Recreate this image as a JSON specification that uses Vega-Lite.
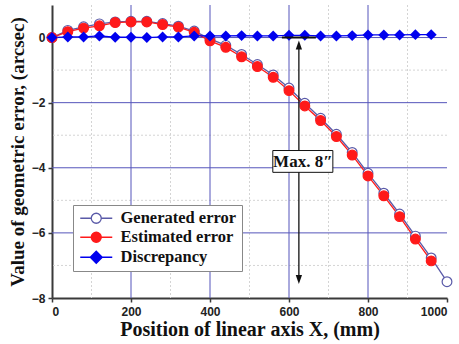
{
  "$schema": "https://vega.github.io/schema/vega-lite/v6.json",
  "width": 395,
  "height": 293,
  "autosize": {"type": "none"},
  "padding": {"left": 52, "top": 5, "right": 12, "bottom": 46},
  "background": "white",
  "config": {
    "view": {"stroke": null},
    "axis": {
      "domainColor": "#3a3a3a",
      "domainWidth": 2,
      "tickColor": "#3a3a3a",
      "tickWidth": 1.5,
      "tickSize": 4,
      "grid": false,
      "labelFont": "Liberation Sans",
      "labelFontWeight": "bold",
      "labelFontSize": 12,
      "labelColor": "#222",
      "titleFont": "Liberation Serif",
      "titleFontWeight": "bold",
      "titleColor": "#111"
    }
  },
  "datasets": {
    "series": [
      {"x": 0, "s": "Generated error", "v": 0.0},
      {"x": 40, "s": "Generated error", "v": 0.22},
      {"x": 80, "s": "Generated error", "v": 0.33},
      {"x": 120, "s": "Generated error", "v": 0.42},
      {"x": 160, "s": "Generated error", "v": 0.48},
      {"x": 200, "s": "Generated error", "v": 0.5},
      {"x": 240, "s": "Generated error", "v": 0.5},
      {"x": 280, "s": "Generated error", "v": 0.43},
      {"x": 320, "s": "Generated error", "v": 0.35},
      {"x": 360, "s": "Generated error", "v": 0.2},
      {"x": 400, "s": "Generated error", "v": -0.04},
      {"x": 440, "s": "Generated error", "v": -0.24},
      {"x": 480, "s": "Generated error", "v": -0.52},
      {"x": 520, "s": "Generated error", "v": -0.83},
      {"x": 560, "s": "Generated error", "v": -1.15},
      {"x": 600, "s": "Generated error", "v": -1.55},
      {"x": 640, "s": "Generated error", "v": -2.02},
      {"x": 680, "s": "Generated error", "v": -2.48},
      {"x": 720, "s": "Generated error", "v": -2.97},
      {"x": 760, "s": "Generated error", "v": -3.53},
      {"x": 800, "s": "Generated error", "v": -4.17},
      {"x": 840, "s": "Generated error", "v": -4.78},
      {"x": 880, "s": "Generated error", "v": -5.42},
      {"x": 920, "s": "Generated error", "v": -6.1},
      {"x": 960, "s": "Generated error", "v": -6.77},
      {"x": 1000, "s": "Generated error", "v": -7.5},
      {"x": 0, "s": "Estimated error", "v": 0.0},
      {"x": 40, "s": "Estimated error", "v": 0.18},
      {"x": 80, "s": "Estimated error", "v": 0.29},
      {"x": 120, "s": "Estimated error", "v": 0.36},
      {"x": 160, "s": "Estimated error", "v": 0.46},
      {"x": 200, "s": "Estimated error", "v": 0.48},
      {"x": 240, "s": "Estimated error", "v": 0.48},
      {"x": 280, "s": "Estimated error", "v": 0.4},
      {"x": 320, "s": "Estimated error", "v": 0.32},
      {"x": 360, "s": "Estimated error", "v": 0.16},
      {"x": 400, "s": "Estimated error", "v": -0.1},
      {"x": 440, "s": "Estimated error", "v": -0.3},
      {"x": 480, "s": "Estimated error", "v": -0.59},
      {"x": 520, "s": "Estimated error", "v": -0.89},
      {"x": 560, "s": "Estimated error", "v": -1.22},
      {"x": 600, "s": "Estimated error", "v": -1.63},
      {"x": 640, "s": "Estimated error", "v": -2.1},
      {"x": 680, "s": "Estimated error", "v": -2.55},
      {"x": 720, "s": "Estimated error", "v": -3.04},
      {"x": 760, "s": "Estimated error", "v": -3.61},
      {"x": 800, "s": "Estimated error", "v": -4.25},
      {"x": 840, "s": "Estimated error", "v": -4.86},
      {"x": 880, "s": "Estimated error", "v": -5.5},
      {"x": 920, "s": "Estimated error", "v": -6.19},
      {"x": 960, "s": "Estimated error", "v": -6.86},
      {"x": 0, "s": "Discrepancy", "v": 0.0},
      {"x": 40, "s": "Discrepancy", "v": 0.02},
      {"x": 80, "s": "Discrepancy", "v": 0.02},
      {"x": 120, "s": "Discrepancy", "v": 0.05},
      {"x": 160, "s": "Discrepancy", "v": 0.01},
      {"x": 200, "s": "Discrepancy", "v": 0.01},
      {"x": 240, "s": "Discrepancy", "v": 0.0},
      {"x": 280, "s": "Discrepancy", "v": 0.02},
      {"x": 320, "s": "Discrepancy", "v": 0.02},
      {"x": 360, "s": "Discrepancy", "v": 0.05},
      {"x": 400, "s": "Discrepancy", "v": 0.05},
      {"x": 440, "s": "Discrepancy", "v": 0.05},
      {"x": 480, "s": "Discrepancy", "v": 0.06},
      {"x": 520, "s": "Discrepancy", "v": 0.05},
      {"x": 560, "s": "Discrepancy", "v": 0.05},
      {"x": 600, "s": "Discrepancy", "v": 0.07},
      {"x": 640, "s": "Discrepancy", "v": 0.07},
      {"x": 680, "s": "Discrepancy", "v": 0.05},
      {"x": 720, "s": "Discrepancy", "v": 0.05},
      {"x": 760, "s": "Discrepancy", "v": 0.06},
      {"x": 800, "s": "Discrepancy", "v": 0.08},
      {"x": 840, "s": "Discrepancy", "v": 0.08},
      {"x": 880, "s": "Discrepancy", "v": 0.08},
      {"x": 920, "s": "Discrepancy", "v": 0.09},
      {"x": 960, "s": "Discrepancy", "v": 0.09}
    ]
  },
  "layer": [
    {
      "data": {"values": [{"g": 100}, {"g": 300}, {"g": 500}, {"g": 700}, {"g": 900}]},
      "mark": {"type": "rule", "color": "#d4d4d4", "strokeDash": [2, 2], "strokeWidth": 1},
      "encoding": {"x": {"field": "g", "type": "quantitative"}}
    },
    {
      "data": {"values": [{"g": -7}, {"g": -5}, {"g": -3}, {"g": -1}]},
      "mark": {"type": "rule", "color": "#d4d4d4", "strokeDash": [2, 2], "strokeWidth": 1},
      "encoding": {"y": {"field": "g", "type": "quantitative"}}
    },
    {
      "data": {"values": [{"g": 200}, {"g": 400}, {"g": 600}, {"g": 800}]},
      "mark": {"type": "rule", "color": "#5555bb", "strokeWidth": 1},
      "encoding": {"x": {"field": "g", "type": "quantitative"}}
    },
    {
      "data": {"values": [{"g": -6}, {"g": -4}, {"g": -2}, {"g": 0}]},
      "mark": {"type": "rule", "color": "#5555bb", "strokeWidth": 1},
      "encoding": {"y": {"field": "g", "type": "quantitative"}}
    },
    {
      "data": {"name": "series"},
      "mark": {"type": "line", "strokeWidth": 1.3},
      "encoding": {
        "x": {
          "field": "x", "type": "quantitative",
          "scale": {"domain": [0, 1000], "nice": false},
          "axis": {
            "values": [0, 200, 400, 600, 800, 1000],
            "format": "d",
            "labelPadding": 4,
            "title": "Position of linear axis X, (mm)",
            "titleFontSize": 20,
            "titlePadding": 2
          }
        },
        "y": {
          "field": "v", "type": "quantitative",
          "scale": {"domain": [-8, 1], "nice": false},
          "axis": {
            "values": [-8, -6, -4, -2, 0],
            "labelPadding": 3,
            "title": "Value of geometric error, (arcsec)",
            "titleFontSize": 19,
            "titlePadding": 4
          }
        },
        "stroke": {
          "field": "s", "type": "nominal",
          "scale": {"domain": ["Generated error", "Estimated error", "Discrepancy"], "range": ["#5a5aa8", "#ff1a1a", "#0000ee"]},
          "sort": null,
          "legend": {
            "title": null,
            "orient": "none",
            "legendX": 21,
            "legendY": 200,
            "direction": "vertical",
            "fillColor": "white",
            "strokeColor": "#888",
            "padding": 5,
            "labelFont": "Liberation Serif",
            "labelFontWeight": "bold",
            "labelFontSize": 16.5,
            "labelColor": "#111",
            "labelOffset": 16,
            "symbolOffset": 10,
            "symbolSize": 100,
            "symbolStrokeWidth": 1.3,
            "rowPadding": 2,
            "symbolType": "M-3.2,0L-1,0M1,0L3.2,0M-1,0A1,1,0,1,1,1,0A1,1,0,1,1,-1,0Z",
            "encode": {
              "symbols": {
                "update": {
                  "shape": {"signal": "datum.value === 'Discrepancy' ? 'M-3.2,0L-1.2,0M1.2,0L3.2,0M0,-1.2L1.2,0L0,1.2L-1.2,0Z' : 'M-3.2,0L-1,0M1,0L3.2,0M-1,0A1,1,0,1,1,1,0A1,1,0,1,1,-1,0Z'"},
                  "fill": {"signal": "datum.value === 'Generated error' ? 'white' : datum.value === 'Estimated error' ? '#ff1a1a' : '#0000ee'"},
                  "stroke": {"signal": "datum.value === 'Generated error' ? '#5a5aa8' : datum.value === 'Estimated error' ? '#ff1a1a' : '#0000ee'"},
                  "strokeWidth": {"value": 1.3},
                  "strokeOpacity": {"value": 1},
                  "fillOpacity": {"value": 1},
                  "opacity": {"value": 1}
                }
              }
            }
          }
        }
      }
    },
    {
      "data": {"name": "series"},
      "transform": [{"filter": "datum.s !== 'Discrepancy'"}],
      "mark": {"type": "point", "shape": "circle", "filled": false, "opacity": 1, "strokeWidth": 1.2, "size": 95},
      "encoding": {
        "x": {"field": "x", "type": "quantitative"},
        "y": {"field": "v", "type": "quantitative"},
        "fill": {
          "field": "s", "type": "nominal",
          "scale": {"domain": ["Generated error", "Estimated error", "Discrepancy"], "range": ["white", "#ff1a1a", "#0000ee"]},
          "legend": null
        },
        "stroke": {"field": "s", "type": "nominal", "legend": null},
        "fillOpacity": {"value": 1}
      }
    },
    {
      "data": {"name": "series"},
      "transform": [{"filter": "datum.s === 'Discrepancy'"}],
      "mark": {"type": "point", "shape": "diamond", "filled": true, "opacity": 1, "color": "#0000ee", "size": 120},
      "encoding": {
        "x": {"field": "x", "type": "quantitative"},
        "y": {"field": "v", "type": "quantitative"}
      }
    },
    {
      "data": {"values": [{"x": 625, "y": -0.25, "y2": -7.4}]},
      "mark": {"type": "rule", "color": "#111", "strokeWidth": 1.3},
      "encoding": {
        "x": {"field": "x", "type": "quantitative"},
        "y": {"field": "y", "type": "quantitative"},
        "y2": {"field": "y2"}
      }
    },
    {
      "data": {"values": [{"x": 582, "x2": 668, "y": 0}]},
      "mark": {"type": "rule", "color": "#111", "strokeWidth": 2},
      "encoding": {
        "x": {"field": "x", "type": "quantitative"},
        "x2": {"field": "x2"},
        "y": {"field": "y", "type": "quantitative"}
      }
    },
    {
      "data": {"values": [{"x": 625, "y": -0.23}]},
      "mark": {"type": "point", "filled": true, "color": "#111", "opacity": 1, "size": 81, "shape": "M0,-1L0.7,1L-0.7,1Z"},
      "encoding": {
        "x": {"field": "x", "type": "quantitative"},
        "y": {"field": "y", "type": "quantitative"}
      }
    },
    {
      "data": {"values": [{"x": 625, "y": -7.43}]},
      "mark": {"type": "point", "filled": true, "color": "#111", "opacity": 1, "size": 81, "shape": "M0,1L0.7,-1L-0.7,-1Z"},
      "encoding": {
        "x": {"field": "x", "type": "quantitative"},
        "y": {"field": "y", "type": "quantitative"}
      }
    },
    {
      "data": {"values": [{"x": 559, "x2": 711, "y": -3.47, "y2": -4.14}]},
      "mark": {"type": "rect", "fill": "white", "stroke": "#111", "strokeWidth": 1},
      "encoding": {
        "x": {"field": "x", "type": "quantitative"},
        "x2": {"field": "x2"},
        "y": {"field": "y", "type": "quantitative"},
        "y2": {"field": "y2"}
      }
    },
    {
      "data": {"values": [{"x": 635, "y": -3.81, "t": "Max. 8″"}]},
      "mark": {"type": "text", "font": "Liberation Serif", "fontWeight": "bold", "fontSize": 17, "color": "#111", "align": "center", "baseline": "middle"},
      "encoding": {
        "x": {"field": "x", "type": "quantitative"},
        "y": {"field": "y", "type": "quantitative"},
        "text": {"field": "t"}
      }
    }
  ]
}
